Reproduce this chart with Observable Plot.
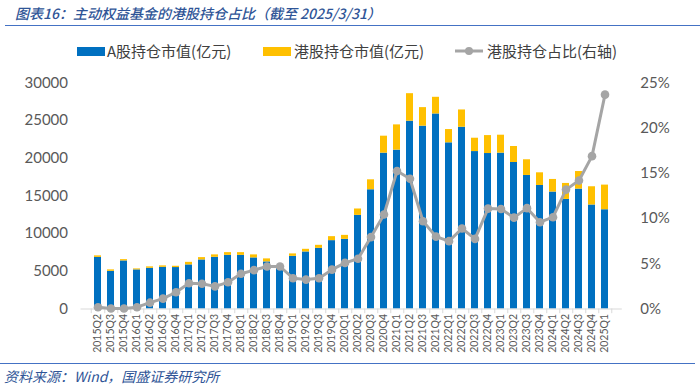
<!DOCTYPE html>
<html>
<head>
<meta charset="utf-8">
<script src="https://cdn.jsdelivr.net/npm/d3@7"></script>
<script src="https://cdn.jsdelivr.net/npm/@observablehq/plot@0.6"></script>
<style>
  html, body { margin: 0; padding: 0; background: #fff; }
  #wrap { position: relative; width: 700px; height: 385px; overflow: hidden; font-family: "Noto Sans CJK SC", sans-serif; }
  #title { position: absolute; left: 15px; top: 3px; font-size: 14px; font-style: italic; font-weight: 500; color: #2F5597; white-space: nowrap; }
  #topline { position: absolute; left: 5px; right: 0; top: 25px; height: 0; border-top: 1.5px solid #4472C4; }
  #legend { position: absolute; top: 40px; left: 0; width: 700px; height: 22px; font-size: 15px; color: #404040; }
  .li { position: absolute; top: 0; height: 22px; line-height: 22px; white-space: nowrap; }
  .sw { position: absolute; top: 7px; width: 28px; height: 9px; }
  #chart { position: absolute; top: 60px; left: 0; }
  #botline { position: absolute; left: 0; right: 5px; top: 363px; height: 0; border-top: 1.5px solid #4472C4; }
  #source { position: absolute; left: 4px; top: 366px; font-size: 14px; font-style: italic; color: #2F5597; white-space: nowrap; }
</style>
</head>
<body>
<div id="wrap">
  <div id="title">图表16：主动权益基金的港股持仓占比（截至 2025/3/31）</div>
  <div id="topline"></div>
  <div id="legend">
    <div class="sw" style="left:77px;background:#0070C0"></div>
    <div class="li" style="left:107px">A股持仓市值(亿元)</div>
    <div class="sw" style="left:263px;background:#FFC000"></div>
    <div class="li" style="left:294px">港股持仓市值(亿元)</div>
    <svg style="position:absolute;left:454px;top:4px" width="30" height="14">
      <line x1="1" y1="7" x2="29" y2="7" stroke="#A5A5A5" stroke-width="3"/>
      <circle cx="15" cy="7" r="4" fill="#A5A5A5"/>
    </svg>
    <div class="li" style="left:487px">港股持仓占比(右轴)</div>
  </div>
  <div id="chart"></div>
  <div id="botline"></div>
  <div id="source">资料来源：Wind，国盛证券研究所</div>
</div>
<script>
const quarters = ["2015Q2","2015Q3","2015Q4","2016Q1","2016Q2","2016Q3","2016Q4","2017Q1","2017Q2","2017Q3","2017Q4","2018Q1","2018Q2","2018Q3","2018Q4","2019Q1","2019Q2","2019Q3","2019Q4","2020Q1","2020Q2","2020Q3","2020Q4","2021Q1","2021Q2","2021Q3","2021Q4","2022Q1","2022Q2","2022Q3","2022Q4","2023Q1","2023Q2","2023Q3","2023Q4","2024Q1","2024Q2","2024Q3","2024Q4","2025Q1"];
const aShare = [6850,5000,6380,5190,5400,5530,5500,5850,6510,6860,7120,7120,6780,6250,5400,6990,7570,8050,9070,9240,12420,15820,20680,21080,24920,24260,25880,22050,24120,20890,20630,20680,19440,17720,16390,15520,14540,15910,13800,13170];
const hkShare = [200,190,170,130,190,190,170,340,310,320,360,360,400,400,250,320,350,400,530,530,850,1320,2250,3350,3650,2460,2210,1760,2290,1770,2380,2380,2120,2080,1680,1670,2120,2330,2420,3270];
const hkRatio = [0.2,0.05,0.05,0.2,0.7,1.15,1.85,2.85,2.8,2.5,2.95,3.9,4.3,4.7,4.7,3.4,3.25,3.4,4.35,5.1,5.55,7.95,10.45,15.25,14.4,9.7,8.0,7.5,8.9,7.75,11.1,11.05,10.1,11.15,9.6,10.15,13.2,14.2,16.9,23.7];
const leftTicks = [0,5000,10000,15000,20000,25000,30000];
const rightTicks = [0,5,10,15,20,25];
const seriesNames = ["A股持仓市值(亿元)","港股持仓市值(亿元)"];

const K = 30000 / 25; // right-axis scale factor: 1% -> 1200
const bars = [];
quarters.forEach((q, i) => {
  bars.push({q, s: seriesNames[0], v: aShare[i]});
  bars.push({q, s: seriesNames[1], v: hkShare[i]});
});
const line = quarters.map((q, i) => ({q, r: hkRatio[i]}));

const W = 700, ML = 80.5, MR = 78.2;
const step = (W - ML - MR) / quarters.length;

const chart = Plot.plot({
  width: W,
  height: 295,
  marginLeft: ML,
  marginRight: MR,
  marginTop: 22.4,
  marginBottom: 46.5,
  style: {fontFamily: "Lato, 'Noto Sans', sans-serif", color: "#595959", background: "transparent"},
  x: {domain: quarters, paddingInner: 0.5, paddingOuter: 0.25, label: null},
  y: {domain: [0, 30000], label: null},
  color: {domain: seriesNames, range: ["#0070C0", "#FFC000"]},
  marks: [
    Plot.barY(bars, Plot.stackY({x: "q", y: "v", fill: "s", order: seriesNames})),
    Plot.ruleY([0], {stroke: "#D9D9D9", strokeWidth: 1}),
    Plot.ruleX(quarters, {x: d => d, dx: step / 2, y1: 0, y2: -620, stroke: "#D9D9D9"}),
    Plot.ruleX([quarters[0]], {x: d => d, dx: -step / 2, y1: 0, y2: -620, stroke: "#D9D9D9"}),
    Plot.line(line, {x: "q", y: d => d.r * K, stroke: "#A5A5A5", strokeWidth: 3}),
    Plot.dot(line, {x: "q", y: d => d.r * K, r: 4.3, fill: "#A5A5A5"}),
    Plot.axisY(leftTicks, {anchor: "left", tickSize: 0, tickPadding: 13, fontSize: 15, label: null, tickFormat: d => String(d)}),
    Plot.axisY(rightTicks.map(t => t * K), {anchor: "right", tickSize: 0, tickPadding: 18, fontSize: 15, label: null, tickFormat: d => Math.round(d / K) + "%"}),
    Plot.axisX({tickRotate: -90, tickSize: 0, tickPadding: 5, fontSize: 10.5, label: null})
  ]
});
document.getElementById("chart").appendChild(chart);
</script>
</body>
</html>
